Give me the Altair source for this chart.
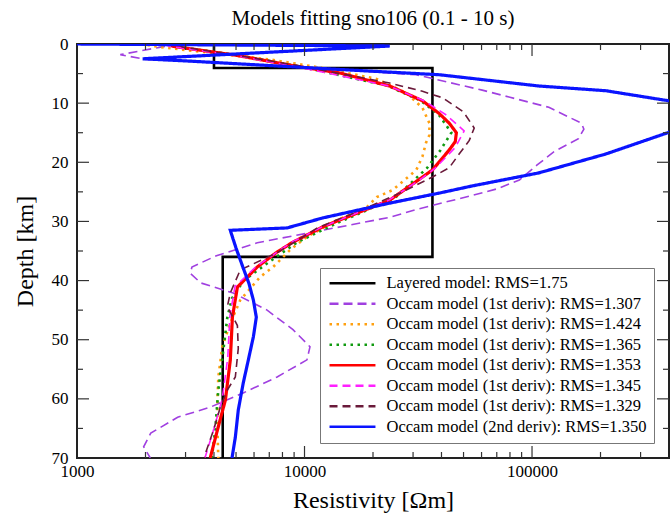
import altair as alt
import pandas as pd

# ---------------- data ----------------
labels = [
    "Layered model: RMS=1.75",
    "Occam model (1st deriv): RMS=1.307",
    "Occam model (1st deriv): RMS=1.424",
    "Occam model (1st deriv): RMS=1.365",
    "Occam model (1st deriv): RMS=1.353",
    "Occam model (1st deriv): RMS=1.345",
    "Occam model (1st deriv): RMS=1.329",
    "Occam model (2nd deriv): RMS=1.350",
]
colors = ["#000000", "#a040e0", "#ffa010", "#109a10", "#ff0000", "#ff20ff", "#6a1a3a", "#0a14ff"]

layered_depth = [0, 4.06, 4.06, 36.0, 36.0, 70]
layered_rho = [4000, 4000, 36500, 36500, 4370, 4370]

purple_depth = [0, 0.7, 1.8, 2.6, 2.9, 3.6, 4.4, 5.2, 7.8, 10.7, 13.4, 14.4, 16.0, 18.2, 20.5, 23.0,
                24.5, 25.7, 26.6, 28.0, 29.3, 31.5, 33.6, 35.8, 37.7, 38.8, 40.4, 42.1, 45.0, 48.3,
                51.2, 53.4, 56.3, 59.0, 61.4, 63.1, 65.8, 68.1, 70]
purple_rho = [2800, 2200, 1550, 2000, 3000, 7000, 15000, 31000, 60400, 118500, 165000, 169000, 160000,
              125000, 105000, 88000, 70000, 53500, 43000, 31000, 23700, 12000, 6200, 4100, 3200, 3150,
              3500, 4860, 6850, 8900, 10570, 10250, 7580, 5380, 3855, 2770, 2110, 1963, 2100]

orange_depth = [0, 0.5, 1.2, 2.6, 4.06, 5.9, 8.3, 10.8, 13.4, 15.4, 16.7, 19.0, 21.3, 24.7, 25.9, 27.6,
                29.8, 32.6, 34.8, 37.7, 39.4, 43.3, 47.2, 51.2, 56.3, 60.2, 64.8, 70]
orange_rho = [1900, 2300, 3300, 7000, 12000, 20750, 28100, 33000, 35400, 35400, 34200, 33000, 31000,
              24400, 20750, 18800, 13870, 10250, 8650, 7280, 6380, 5220, 4718, 4350, 4180, 4140, 4140, 4180]

green_depth = [0, 0.4, 1.9, 3.7, 7.0, 9.6, 12.0, 15.0, 18.0, 21.0, 26.0, 30.5, 33.5, 37.0, 40.0, 43.0,
               46.2, 51.7, 58.5, 65.3, 69.2, 70]
green_rho = [2600, 2700, 5100, 9200, 23000, 32500, 39000, 44200, 39500, 34500, 25000, 13500, 9300, 6900,
             5400, 4800, 4580, 4400, 4180, 4050, 3935, 3920]

red_depth = [0, 0.4, 1.9, 3.7, 4.9, 7.1, 9.6, 11.8, 13.4, 15.0, 16.5, 17.9, 21.3, 22.5, 26.4, 28.6,
             30.9, 33.6, 35.3, 37.7, 41.1, 46.2, 53.4, 60.2, 65.3, 70]
red_rho = [2500, 2650, 5000, 9000, 14300, 23700, 33000, 39200, 43300, 46500, 46000, 43300, 36500, 33000,
           23700, 17000, 12050, 8800, 7500, 6200, 5070, 4820, 4720, 4490, 4140, 3850]

magenta_depth = [0, 0.4, 1.9, 3.7, 7.1, 9.6, 12.0, 14.7, 17.5, 21.0, 23.0, 26.4, 30.9, 33.6, 37.7, 41.0,
                 46.0, 53.0, 60.0, 65.0, 70]
magenta_rho = [2400, 2550, 4900, 8900, 23500, 33500, 42000, 50300, 46000, 37500, 32000, 23500, 12000,
               8700, 6100, 4950, 4700, 4600, 4350, 4000, 3650]

maroon_depth = [0, 0.5, 2.0, 3.7, 6.6, 8.0, 9.1, 11.5, 14.2, 16.3, 19.0, 20.9, 22.5, 25.0, 28.0, 31.0,
                35.3, 38.2, 42.1, 44.4, 47.6, 51.5, 56.3, 58.5, 61.4, 65.3, 69.2, 70]
maroon_rho = [2800, 2900, 5200, 9500, 23700, 33000, 40500, 50000, 55700, 53000, 47000, 43300, 36500,
              27000, 18000, 11500, 7580, 5220, 4718, 4580, 5070, 5115, 4965, 4580, 4266, 3980, 3670, 3640]

blue_depth = [0, 0.34, 2.5, 2.9, 4.4, 5.2, 7.1, 7.9, 9.6, 12.0, 15.0, 18.6, 21.8, 24.0, 25.2, 26.9,
              29.4, 31.1, 31.5, 34.5, 37.9, 40.5, 43.3, 46.2, 49.5, 53.4, 57.3, 61.9, 66.5, 70]
blue_rho = [1000, 23700, 1944, 3155, 15800, 39200, 107000, 211000, 398000, 600000, 395000, 211000,
            107000, 54600, 39200, 23700, 12050, 8380, 4718, 5000, 5380, 5700, 5960, 6140, 5960, 5665,
            5380, 5115, 4965, 4800]

x_label_values = [1000, 10000, 100000]
y_label_values = [0, 10, 20, 30, 40, 50, 60, 70]
x_major_ticks = [10000, 100000]
x_minor_ticks = [2000, 3000, 4000, 5000, 6000, 7000, 8000, 9000,
                 20000, 30000, 40000, 50000, 60000, 70000, 80000, 90000, 200000, 300000]
y_major_ticks = [10, 20, 30, 40, 50, 60]
y_minor_ticks = [5, 15, 25, 35, 45, 55, 65]

series = [
    (layered_depth, layered_rho),
    (purple_depth, purple_rho),
    (orange_depth, orange_rho),
    (green_depth, green_rho),
    (red_depth, red_rho),
    (magenta_depth, magenta_rho),
    (maroon_depth, maroon_rho),
    (blue_depth, blue_rho),
]

rows = []
for lab, (ds, rs) in zip(labels, series):
    for i, (d, r) in enumerate(zip(ds, rs)):
        rows.append({"series": lab, "i": i, "depth": d, "rho": r})
df = pd.DataFrame(rows)

# ---------------- chart ----------------
W, H = 592, 414
FONT = "Liberation Serif"
xscale = alt.Scale(type="log", domain=[1000, 400000], nice=False)
yscale = alt.Scale(domain=[0, 70], reverse=True, nice=False)
axis_style = dict(labelFont=FONT, labelFontSize=17, labelColor="black", titleFont=FONT,
                  titleFontSize=24, titleFontWeight="normal", titleColor="black",
                  ticks=False, domain=False, grid=False, labelFlush=False, labelOverlap=False)
xaxis = alt.Axis(values=x_label_values, format="d", title="Resistivity [Ωm]",
                 labelPadding=5, titlePadding=9, **axis_style)
yaxis = alt.Axis(values=y_label_values, title="Depth [km]",
                 labelPadding=9, titlePadding=14, **axis_style)

dashes = [[1, 0], [9, 5], [2.5, 4.5], [2.5, 4.5], [1, 0], [8, 5], [8, 5], [1, 0]]
thick = [labels[4], labels[7]]
medium = [labels[0], labels[2], labels[3]]

lines = alt.Chart(df).mark_line(clip=True).encode(
    x=alt.X("rho:Q", scale=xscale, axis=xaxis),
    y=alt.Y("depth:Q", scale=yscale, axis=yaxis),
    color=alt.Color("series:N", scale=alt.Scale(domain=labels, range=colors), title=None, sort=labels),
    strokeDash=alt.StrokeDash("series:N", scale=alt.Scale(domain=labels, range=dashes), title=None, sort=labels),
    strokeWidth=alt.when(alt.FieldOneOfPredicate(field="series", oneOf=thick)).then(alt.value(3.2))
        .when(alt.FieldOneOfPredicate(field="series", oneOf=medium)).then(alt.value(2.6))
        .otherwise(alt.value(1.6)),
    order=alt.Order("i:Q"),
    detail="series:N",
)

TICK_C = "#333333"
xmaj = pd.DataFrame({"rho": x_major_ticks})
xmin = pd.DataFrame({"rho": x_minor_ticks})
ymaj = pd.DataFrame({"depth": y_major_ticks})
ymin = pd.DataFrame({"depth": y_minor_ticks})


def xt(data, length, bottom):
    y0 = H if bottom else 0
    y1 = H - length if bottom else length
    return alt.Chart(data).mark_rule(color=TICK_C, strokeWidth=1.2).encode(
        x=alt.X("rho:Q", scale=xscale, axis=xaxis), y=alt.value(y0), y2=alt.value(y1))


def yt(data, length, left):
    x0 = 0 if left else W
    x1 = length if left else W - length
    return alt.Chart(data).mark_rule(color=TICK_C, strokeWidth=1.2).encode(
        y=alt.Y("depth:Q", scale=yscale, axis=yaxis), x=alt.value(x0), x2=alt.value(x1))


ticks = [
    xt(xmaj, 12, True), xt(xmin, 6, True), xt(xmaj, 12, False), xt(xmin, 6, False),
    yt(ymaj, 12, True), yt(ymin, 6, True), yt(ymaj, 12, False), yt(ymin, 6, False),
]

chart = alt.layer(lines, *ticks).properties(
    width=W, height=H,
    padding={"left": 77, "top": 44, "right": 3, "bottom": 64},
    autosize="none",
    title=alt.TitleParams("Models fitting sno106 (0.1 - 10 s)", font=FONT, fontSize=21,
                          fontWeight="normal", color="black", offset=6, anchor="middle"),
).configure(
    font=FONT
).configure_axis(
    labelFont=FONT, titleFont=FONT, labelFontSize=17, titleFontSize=24, titleFontWeight="normal",
).configure_view(
    stroke="#222222", strokeWidth=2
).configure_legend(
    orient="none", legendX=243, legendY=224, strokeColor="#777777", fillColor="white",
    padding=7, symbolType="M-1,0H7", symbolSize=132, symbolStrokeWidth=2.4,
    labelFont=FONT, labelFontSize=16.5, labelColor="black", labelLimit=0, labelOffset=43,
    rowPadding=3.5, cornerRadius=0,
)

chart.save("out.html", embed_options={"renderer": "svg", "actions": False})
